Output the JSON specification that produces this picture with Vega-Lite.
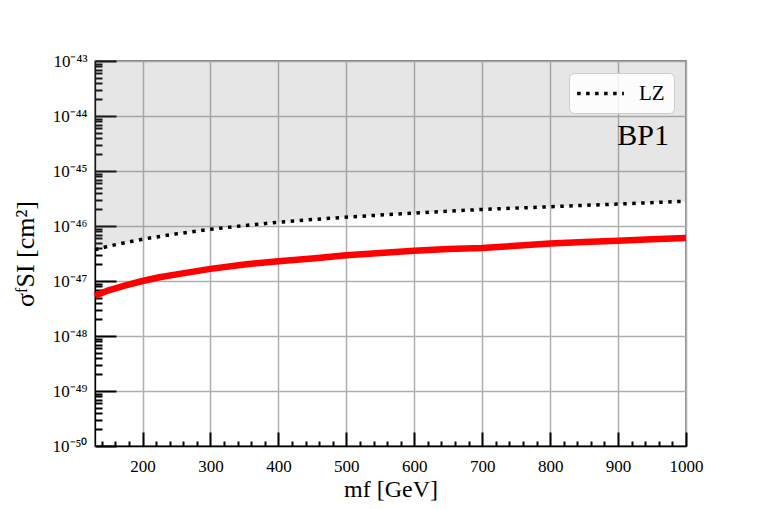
{
  "$schema": "https://vega.github.io/schema/vega-lite/v6.json",
  "width": 591,
  "height": 385,
  "autosize": {"type": "none"},
  "padding": {"left": 95, "top": 61, "right": 77, "bottom": 63},
  "background": "white",
  "datasets": {
    "lz": [
      {"m": 130, "s": 3.7e-47, "series": "LZ"},
      {"m": 150, "s": 4.3e-47, "series": "LZ"},
      {"m": 175, "s": 5.0e-47, "series": "LZ"},
      {"m": 200, "s": 5.75e-47, "series": "LZ"},
      {"m": 250, "s": 7.2e-47, "series": "LZ"},
      {"m": 300, "s": 8.7e-47, "series": "LZ"},
      {"m": 350, "s": 1.02e-46, "series": "LZ"},
      {"m": 400, "s": 1.17e-46, "series": "LZ"},
      {"m": 450, "s": 1.31e-46, "series": "LZ"},
      {"m": 500, "s": 1.45e-46, "series": "LZ"},
      {"m": 600, "s": 1.72e-46, "series": "LZ"},
      {"m": 700, "s": 2.0e-46, "series": "LZ"},
      {"m": 800, "s": 2.24e-46, "series": "LZ"},
      {"m": 900, "s": 2.51e-46, "series": "LZ"},
      {"m": 1000, "s": 2.82e-46, "series": "LZ"}
    ],
    "bp1": [
      {"m": 130, "s": 5.37e-48},
      {"m": 140, "s": 6.03e-48},
      {"m": 150, "s": 6.76e-48},
      {"m": 175, "s": 8.3e-48},
      {"m": 200, "s": 1.0e-47},
      {"m": 225, "s": 1.17e-47},
      {"m": 250, "s": 1.32e-47},
      {"m": 300, "s": 1.66e-47},
      {"m": 350, "s": 2.0e-47},
      {"m": 400, "s": 2.29e-47},
      {"m": 450, "s": 2.57e-47},
      {"m": 500, "s": 2.95e-47},
      {"m": 550, "s": 3.24e-47},
      {"m": 600, "s": 3.55e-47},
      {"m": 650, "s": 3.8e-47},
      {"m": 700, "s": 3.98e-47},
      {"m": 750, "s": 4.37e-47},
      {"m": 800, "s": 4.79e-47},
      {"m": 850, "s": 5.13e-47},
      {"m": 900, "s": 5.37e-47},
      {"m": 950, "s": 5.75e-47},
      {"m": 1000, "s": 6.03e-47}
    ],
    "label": [{"m": 975, "s": 4.35e-45, "t": "BP1"}]
  },
  "layer": [
    {
      "data": {"name": "lz"},
      "mark": {"type": "area", "fill": "#808080", "fillOpacity": 0.2, "stroke": null},
      "encoding": {
        "x": {
          "field": "m", "type": "quantitative",
          "scale": {"domain": [130, 1000], "nice": false, "zero": false},
          "axis": {
            "title": "mf [GeV]",
            "tickCount": 200,
            "values": [140,160,180,200,220,240,260,280,300,320,340,360,380,400,420,440,460,480,500,520,540,560,580,600,620,640,660,680,700,720,740,760,780,800,820,840,860,880,900,920,940,960,980,1000],
            "labelExpr": "datum.value % 100 == 0 ? datum.value : ''",
            "labelOverlap": false,
            "labelFlush": false,
            "labelFontSize": 17,
            "tickSize": {"condition": {"test": "datum.value % 100 == 0", "value": -14}, "value": -5},
            "gridOpacity": {"condition": {"test": "datum.value % 100 == 0", "value": 1}, "value": 0},
            "labelPadding": 26,
            "titlePadding": -6
          }
        },
        "y": {
          "field": "s", "type": "quantitative",
          "scale": {"type": "log", "domain": [1e-50, 1e-43], "nice": false},
          "axis": {
            "title": "σᶠSI [cm²]",
            "tickCount": 200,
            "values": [1e-50,2e-50,3e-50,4e-50,5e-50,6e-50,7e-50,8e-50,9e-50,1e-49,2e-49,3e-49,4e-49,5e-49,6e-49,7e-49,8e-49,9e-49,1e-48,2e-48,3e-48,4e-48,5e-48,6e-48,7e-48,8e-48,9e-48,1e-47,2e-47,3e-47,4e-47,5e-47,6e-47,7e-47,8e-47,9e-47,1e-46,2e-46,3e-46,4e-46,5e-46,6e-46,7e-46,8e-46,9e-46,1e-45,2e-45,3e-45,4e-45,5e-45,6e-45,7e-45,8e-45,9e-45,1e-44,2e-44,3e-44,4e-44,5e-44,6e-44,7e-44,8e-44,9e-44,1e-43],
            "labelExpr": "abs(log(datum.value)/LN10 - round(log(datum.value)/LN10)) < 0.01 ? ['10⁻⁵⁰','10⁻⁴⁹','10⁻⁴⁸','10⁻⁴⁷','10⁻⁴⁶','10⁻⁴⁵','10⁻⁴⁴','10⁻⁴³'][round(log(datum.value)/LN10)+50] : ''",
            "labelOverlap": false,
            "labelFlush": false,
            "labelFontSize": 17,
            "tickSize": {"condition": {"test": "abs(log(datum.value)/LN10 - round(log(datum.value)/LN10)) < 0.01", "value": -21}, "value": -7},
            "gridOpacity": {"condition": {"test": "abs(log(datum.value)/LN10 - round(log(datum.value)/LN10)) < 0.01", "value": 1}, "value": 0},
            "labelPadding": 29,
            "titlePadding": 14,
            "titleFontSize": 26
          }
        },
        "y2": {"datum": 1e-43}
      }
    },
    {
      "data": {"name": "lz"},
      "mark": {"type": "line", "color": "black", "strokeWidth": 3.5, "strokeCap": "butt"},
      "encoding": {
        "x": {"field": "m", "type": "quantitative"},
        "y": {"field": "s", "type": "quantitative"},
        "strokeDash": {
          "field": "series", "type": "nominal",
          "scale": {"domain": ["LZ"], "range": [[3.5, 5.5]]},
          "legend": {"title": null}
        }
      }
    },
    {
      "data": {"name": "bp1"},
      "mark": {"type": "line", "color": "#ff0000", "strokeWidth": 6.5},
      "encoding": {
        "x": {"field": "m", "type": "quantitative"},
        "y": {"field": "s", "type": "quantitative"}
      }
    },
    {
      "data": {"name": "label"},
      "mark": {"type": "text", "align": "right", "baseline": "middle", "font": "Liberation Serif", "fontSize": 30, "color": "black"},
      "encoding": {
        "x": {"field": "m", "type": "quantitative"},
        "y": {"field": "s", "type": "quantitative"},
        "text": {"field": "t"}
      }
    }
  ],
  "config": {
    "view": {"stroke": "black", "strokeWidth": 1.3},
    "axis": {
      "domainColor": "black",
      "domainWidth": 1.3,
      "tickColor": "black",
      "tickWidth": 2,
      "gridColor": "#b0b0b0",
      "gridWidth": 1.5,
      "labelFont": "Liberation Serif",
      "labelFontSize": 16,
      "labelColor": "black",
      "titleFont": "Liberation Serif",
      "titleFontSize": 24,
      "titleFontWeight": "normal",
      "titleColor": "black"
    },
    "legend": {
      "orient": "top-right",
      "offset": 12,
      "fillColor": "rgba(255,255,255,0.85)",
      "strokeColor": "#cccccc",
      "cornerRadius": 5,
      "padding": 9,
      "symbolType": "M-2.5,0H2.5",
      "symbolSize": 350,
      "symbolOffset": 11,
      "symbolStrokeWidth": 3.5,
      "symbolStrokeColor": "black",
      "symbolFillColor": "transparent",
      "labelFont": "Liberation Serif",
      "labelFontSize": 21,
      "labelColor": "black",
      "labelOffset": 27
    }
  }
}
